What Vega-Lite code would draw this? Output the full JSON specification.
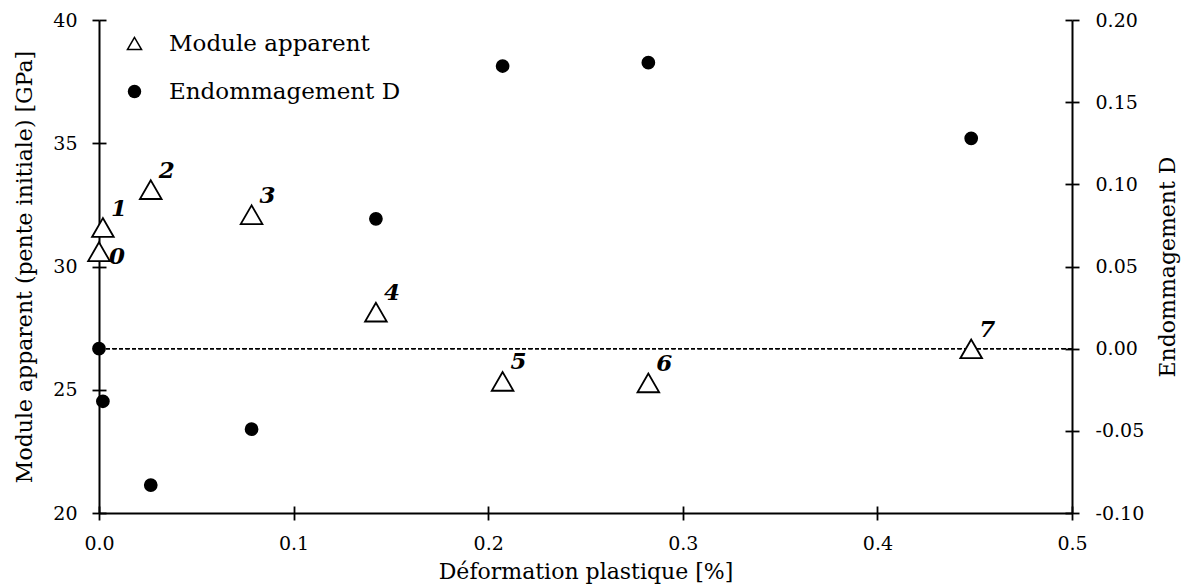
{
  "$schema": "https://vega.github.io/schema/vega-lite/v6.json",
  "width": 973,
  "height": 493,
  "autosize": {"type": "none"},
  "padding": {"left": 99, "top": 20, "right": 111, "bottom": 74},
  "background": "white",
  "data": {
    "values": [
      {"n": "0", "eps": 0.0, "E": 30.60, "D": 0.000},
      {"n": "1", "eps": 0.002, "E": 31.58, "D": -0.032},
      {"n": "2", "eps": 0.0266, "E": 33.12, "D": -0.083},
      {"n": "3", "eps": 0.0784, "E": 32.10, "D": -0.049},
      {"n": "4", "eps": 0.1423, "E": 28.15, "D": 0.079},
      {"n": "5", "eps": 0.2074, "E": 25.34, "D": 0.172},
      {"n": "6", "eps": 0.2823, "E": 25.28, "D": 0.174},
      {"n": "7", "eps": 0.4482, "E": 26.66, "D": 0.128}
    ]
  },
  "config": {
    "view": {"stroke": null},
    "axis": {
      "grid": false,
      "domainColor": "black",
      "domainWidth": 2,
      "tickColor": "black",
      "tickWidth": 1.8,
      "labelColor": "black",
      "titleColor": "black",
      "labelFont": "DejaVu Serif",
      "titleFont": "DejaVu Serif",
      "labelFontSize": 19,
      "titleFontSize": 22,
      "titleFontWeight": "normal",
      "labelFlush": false
    },
    "legend": {
      "labelFont": "DejaVu Serif",
      "labelFontSize": 23,
      "labelColor": "black",
      "labelLimit": 400,
      "symbolSize": 180,
      "symbolStrokeWidth": 1.5,
      "labelOffset": 23,
      "padding": 0
    }
  },
  "layer": [
    {
      "layer": [
        {
          "mark": {"type": "rule", "strokeDash": [4, 2.5], "strokeWidth": 1, "color": "black"},
          "encoding": {
            "y": {
              "datum": 0,
              "type": "quantitative",
              "scale": {"domain": [-0.1, 0.2], "nice": false, "zero": false},
              "axis": {"orient": "right", "values": [-0.1, -0.05, 0, 0.05, 0.1, 0.15, 0.2], "tickSize": -7, "labels": false, "domain": false, "title": null}
            }
          }
        },
        {
          "mark": {"type": "point", "filled": true, "size": 150, "opacity": 1, "color": "black", "stroke": "black", "strokeWidth": 1.5},
          "encoding": {
            "x": {"field": "eps", "type": "quantitative", "scale": {"domain": [0, 0.5], "nice": false, "zero": false}, "axis": null},
            "y": {
              "field": "D",
              "type": "quantitative",
              "scale": {"domain": [-0.1, 0.2], "nice": false, "zero": false},
              "axis": {"orient": "right", "values": [-0.1, -0.05, 0, 0.05, 0.1, 0.15, 0.2], "format": ".2f", "labelExpr": "replace(datum.label, '\u2212', '-')", "tickSize": 7, "labelPadding": 16, "title": "Endommagement D", "titleAngle": 270, "titleBaseline": "top", "titlePadding": 14}
            },
            "shape": {
              "datum": "Endommagement D",
              "scale": {"domain": ["Endommagement D"], "range": ["circle"]},
              "legend": {"orient": "none", "legendX": 24, "legendY": 60, "title": null, "symbolFillColor": "black", "symbolStrokeColor": "black"}
            }
          }
        }
      ],
      "resolve": {"axis": {"x": "independent", "y": "independent"}}
    },
    {
      "layer": [
        {
          "mark": {"type": "point", "filled": true, "size": 470, "opacity": 1, "fill": "white", "stroke": "black", "strokeWidth": 1.8},
          "encoding": {
            "x": {
              "field": "eps",
              "type": "quantitative",
              "scale": {"domain": [0, 0.5], "nice": false, "zero": false},
              "axis": {"orient": "bottom", "values": [0, 0.1, 0.2, 0.3, 0.4, 0.5], "format": ".1f", "tickSize": 7, "labelPadding": 14, "title": "Déformation plastique [%]", "titlePadding": 8}
            },
            "y": {
              "field": "E",
              "type": "quantitative",
              "scale": {"domain": [20, 40], "nice": false, "zero": false},
              "axis": {"orient": "left", "values": [20, 25, 30, 35, 40], "tickSize": 7, "labelPadding": 15, "title": "Module apparent (pente initiale) [GPa]", "titlePadding": 16}
            },
            "shape": {
              "datum": "Module apparent",
              "scale": {"domain": ["Module apparent"], "range": ["triangle-up"]},
              "legend": {
                "orient": "none", "legendX": 24, "legendY": 12, "title": null, "symbolSize": 200,
                "encode": {
                  "symbols": {
                    "fill": {"value": "white"},
                    "stroke": {"value": "black"},
                    "strokeWidth": {"value": 1.5},
                    "opacity": {"value": 1},
                    "fillOpacity": {"value": 1},
                    "strokeOpacity": {"value": 1}
                  }
                }
              }
            }
          }
        },
        {
          "transform": [{"filter": "datum.n != '0'"}],
          "mark": {"type": "text", "font": "DejaVu Serif", "fontSize": 23, "fontStyle": "italic", "fontWeight": "bold", "color": "black", "dx": 16, "dy": -19, "align": "center", "baseline": "middle"},
          "encoding": {
            "x": {
              "field": "eps",
              "type": "quantitative",
              "scale": {"domain": [0, 0.5], "nice": false, "zero": false},
              "axis": {"orient": "bottom", "values": [0, 0.1, 0.2, 0.3, 0.4, 0.5], "tickSize": -7, "labels": false, "domain": false, "title": null}
            },
            "y": {
              "field": "E",
              "type": "quantitative",
              "scale": {"domain": [20, 40], "nice": false, "zero": false},
              "axis": {"orient": "left", "values": [20, 25, 30, 35, 40], "tickSize": -7, "labels": false, "domain": false, "title": null}
            },
            "text": {"field": "n", "type": "nominal"}
          }
        },
        {
          "transform": [{"filter": "datum.n == '0'"}],
          "mark": {"type": "text", "font": "DejaVu Serif", "fontSize": 23, "fontStyle": "italic", "fontWeight": "bold", "color": "black", "dx": 18, "dy": 5, "align": "center", "baseline": "middle"},
          "encoding": {
            "x": {"field": "eps", "type": "quantitative", "scale": {"domain": [0, 0.5], "nice": false, "zero": false}, "axis": null},
            "y": {"field": "E", "type": "quantitative", "scale": {"domain": [20, 40], "nice": false, "zero": false}, "axis": null},
            "text": {"field": "n", "type": "nominal"}
          }
        }
      ],
      "resolve": {"axis": {"x": "independent", "y": "independent"}}
    }
  ],
  "resolve": {
    "scale": {"y": "independent", "shape": "independent"},
    "axis": {"x": "independent", "y": "independent"},
    "legend": {"shape": "independent"}
  }
}
